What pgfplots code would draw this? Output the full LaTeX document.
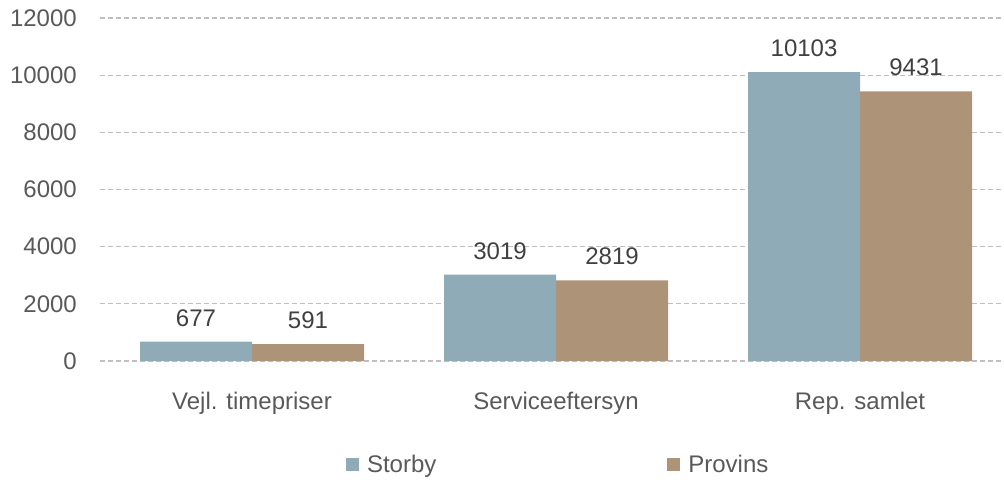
\documentclass[border=0pt]{standalone}
\usepackage{fontspec}
\setmainfont{Liberation Sans}
\usepackage{pgfplots}
\pgfplotsset{compat=1.18}
\definecolor{storby}{HTML}{8FABB7}
\definecolor{provins}{HTML}{AD9479}
\definecolor{txt}{HTML}{595959}
\definecolor{lbl}{HTML}{404040}
\definecolor{gridc}{HTML}{BFBFBF}
\pgfkeys{/pgf/number format/1000 sep={}, /pgf/number format/assume math mode=true}
\newcommand{\bigf}{\fontsize{24pt}{28pt}\selectfont}
\begin{document}
\begin{tikzpicture}
\path (-100pt,-122pt) rectangle (904pt,361pt);
\begin{axis}[
  at={(0pt,0pt)}, anchor=south west,
  scale only axis, width=902pt, height=343pt,
  ybar=0pt, bar width=112pt,
  xmin=-0.5, xmax=2.467, ymin=0, ymax=12000,
  xtick={0,1,2},
  xticklabels={Vejl. timepriser, Serviceeftersyn, Rep. samlet},
  ytick={0,2000,4000,6000,8000,10000,12000},
  axis line style={draw=none},
  major tick length=0pt,
  ymajorgrids,
  grid style={gridc, dash pattern=on 5pt off 3pt, line width=1.3pt},
  tick label style={font=\bigf, text=txt, inner sep=0pt},
  yticklabel style={xshift=-23pt},
  xticklabel style={yshift=-31pt},
  scaled y ticks=false,
  nodes near coords,
  every node near coord/.append style={font=\bigf, text=lbl, inner sep=0pt, yshift=15pt},
  legend style={at={(0.508,-0.303)}, anchor=center, draw=none, fill=none,
    legend columns=2, font=\bigf, text=txt,
    /tikz/every even column/.append style={column sep=229pt}},
  legend image code/.code={\fill[#1] (0pt,-6.5pt) rectangle (13pt,6.5pt); \path (19pt,0pt);},
  clip=false,
]
\addplot[fill=storby, draw=none] coordinates {(0,677) (1,3019) (2,10103)};
\addplot[fill=provins, draw=none] coordinates {(0,591) (1,2819) (2,9431)};
\legend{Storby, Provins}
\end{axis}
\end{tikzpicture}
\end{document}
